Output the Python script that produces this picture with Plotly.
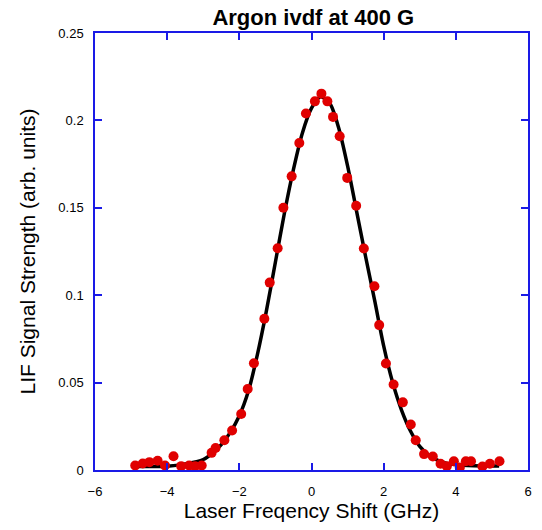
import plotly.graph_objects as go

# Measured data (GHz, arb. units)
data_x = [-4.886, -4.677, -4.492, -4.264, -4.061, -3.824, -3.612, -3.392, -3.227, -3.043,
          -2.768, -2.658, -2.415, -2.201, -1.948, -1.769, -1.596, -1.307, -1.158, -0.938,
          -0.779, -0.550, -0.338, -0.154, 0.094, 0.275, 0.440, 0.597, 0.781, 0.990,
          1.238, 1.450, 1.744, 1.876, 2.063, 2.275, 2.531, 2.751, 2.889, 3.120,
          3.362, 3.576, 3.750, 3.945, 4.110, 4.278, 4.421, 4.737, 4.944, 5.210]
data_y = [0.0026, 0.0037, 0.0045, 0.0053, 0.0026, 0.0079, 0.0022, 0.0026, 0.0022, 0.0026,
          0.0098, 0.0126, 0.0170, 0.0226, 0.0320, 0.0463, 0.0611, 0.0865, 0.1072, 0.1269,
          0.1500, 0.1680, 0.1871, 0.2039, 0.2109, 0.2153, 0.2109, 0.2020, 0.1909, 0.1671,
          0.1512, 0.1267, 0.1051, 0.0829, 0.0609, 0.0489, 0.0387, 0.0260, 0.0170, 0.0091,
          0.0077, 0.0036, 0.0022, 0.0050, 0.0015, 0.0050, 0.0050, 0.0020, 0.0036, 0.0050]

# Fitted curve
fit_x = [-4.9, -4.0, -3.5, -3.0, -2.75, -2.5, -2.25, -2.0, -1.75, -1.5, -1.25, -1.0,
         -0.75, -0.5, -0.25, 0.0, 0.25, 0.5, 0.75, 1.0, 1.25, 1.5, 1.75, 2.0, 2.25,
         2.5, 2.75, 3.0, 3.25, 3.5, 3.75, 4.0, 4.5, 5.2]
fit_y = [0.0020, 0.0022, 0.0035, 0.0060, 0.0095, 0.0145, 0.0215, 0.031, 0.045, 0.066,
         0.091, 0.119, 0.147, 0.172, 0.193, 0.207, 0.2135, 0.210, 0.196, 0.174, 0.148,
         0.122, 0.097, 0.071, 0.050, 0.034, 0.022, 0.0135, 0.0085, 0.0055, 0.0038,
         0.0030, 0.0025, 0.0023]

x_ticks = [-6, -4, -2, 0, 2, 4, 6]
y_ticks = [0, 0.05, 0.1, 0.15, 0.2, 0.25]

BLUE = "#1a1ae6"
FONT = "Liberation Sans, Arial, sans-serif"

fig = go.Figure()
fig.add_trace(go.Scatter(x=fit_x, y=fit_y, mode="lines",
                         line=dict(color="black", width=3.5, shape="spline", smoothing=0.8),
                         showlegend=False, hoverinfo="skip"))
fig.add_trace(go.Scatter(x=data_x, y=data_y, mode="markers",
                         marker=dict(color="#e00000", size=10, line=dict(width=0)),
                         showlegend=False))

fig.update_layout(
    width=542, height=530,
    margin=dict(l=95, r=10, t=33, b=60),
    paper_bgcolor="white", plot_bgcolor="white",
    font=dict(family=FONT, color="black", size=13),
    title=dict(text="<b>Argon ivdf at 400 G</b>", x=0.578, xanchor="center",
               y=0.968, yanchor="middle", font=dict(size=22, family=FONT, color="black")),
    xaxis=dict(range=[-6, 6], tickvals=x_ticks, ticks="inside", ticklen=7, tickwidth=1.5,
               tickcolor=BLUE, showline=True, linecolor=BLUE, linewidth=1.5, mirror="allticks",
               showgrid=False, zeroline=False, tickfont=dict(size=13, color="black"),
               ticklabelstandoff=9,
               title=dict(text="Laser Freqency Shift (GHz)", font=dict(size=21), standoff=3)),
    yaxis=dict(range=[0, 0.25], tickvals=y_ticks, ticks="inside", ticklen=7, tickwidth=1.5,
               tickcolor=BLUE, showline=True, linecolor=BLUE, linewidth=1.5, mirror="allticks",
               showgrid=False, zeroline=False, tickfont=dict(size=13, color="black"),
               ticklabelstandoff=7,
               title=dict(text="LIF Signal Strength (arb. units)", font=dict(size=21), standoff=17)),
)

fig.write_html("out.html")
